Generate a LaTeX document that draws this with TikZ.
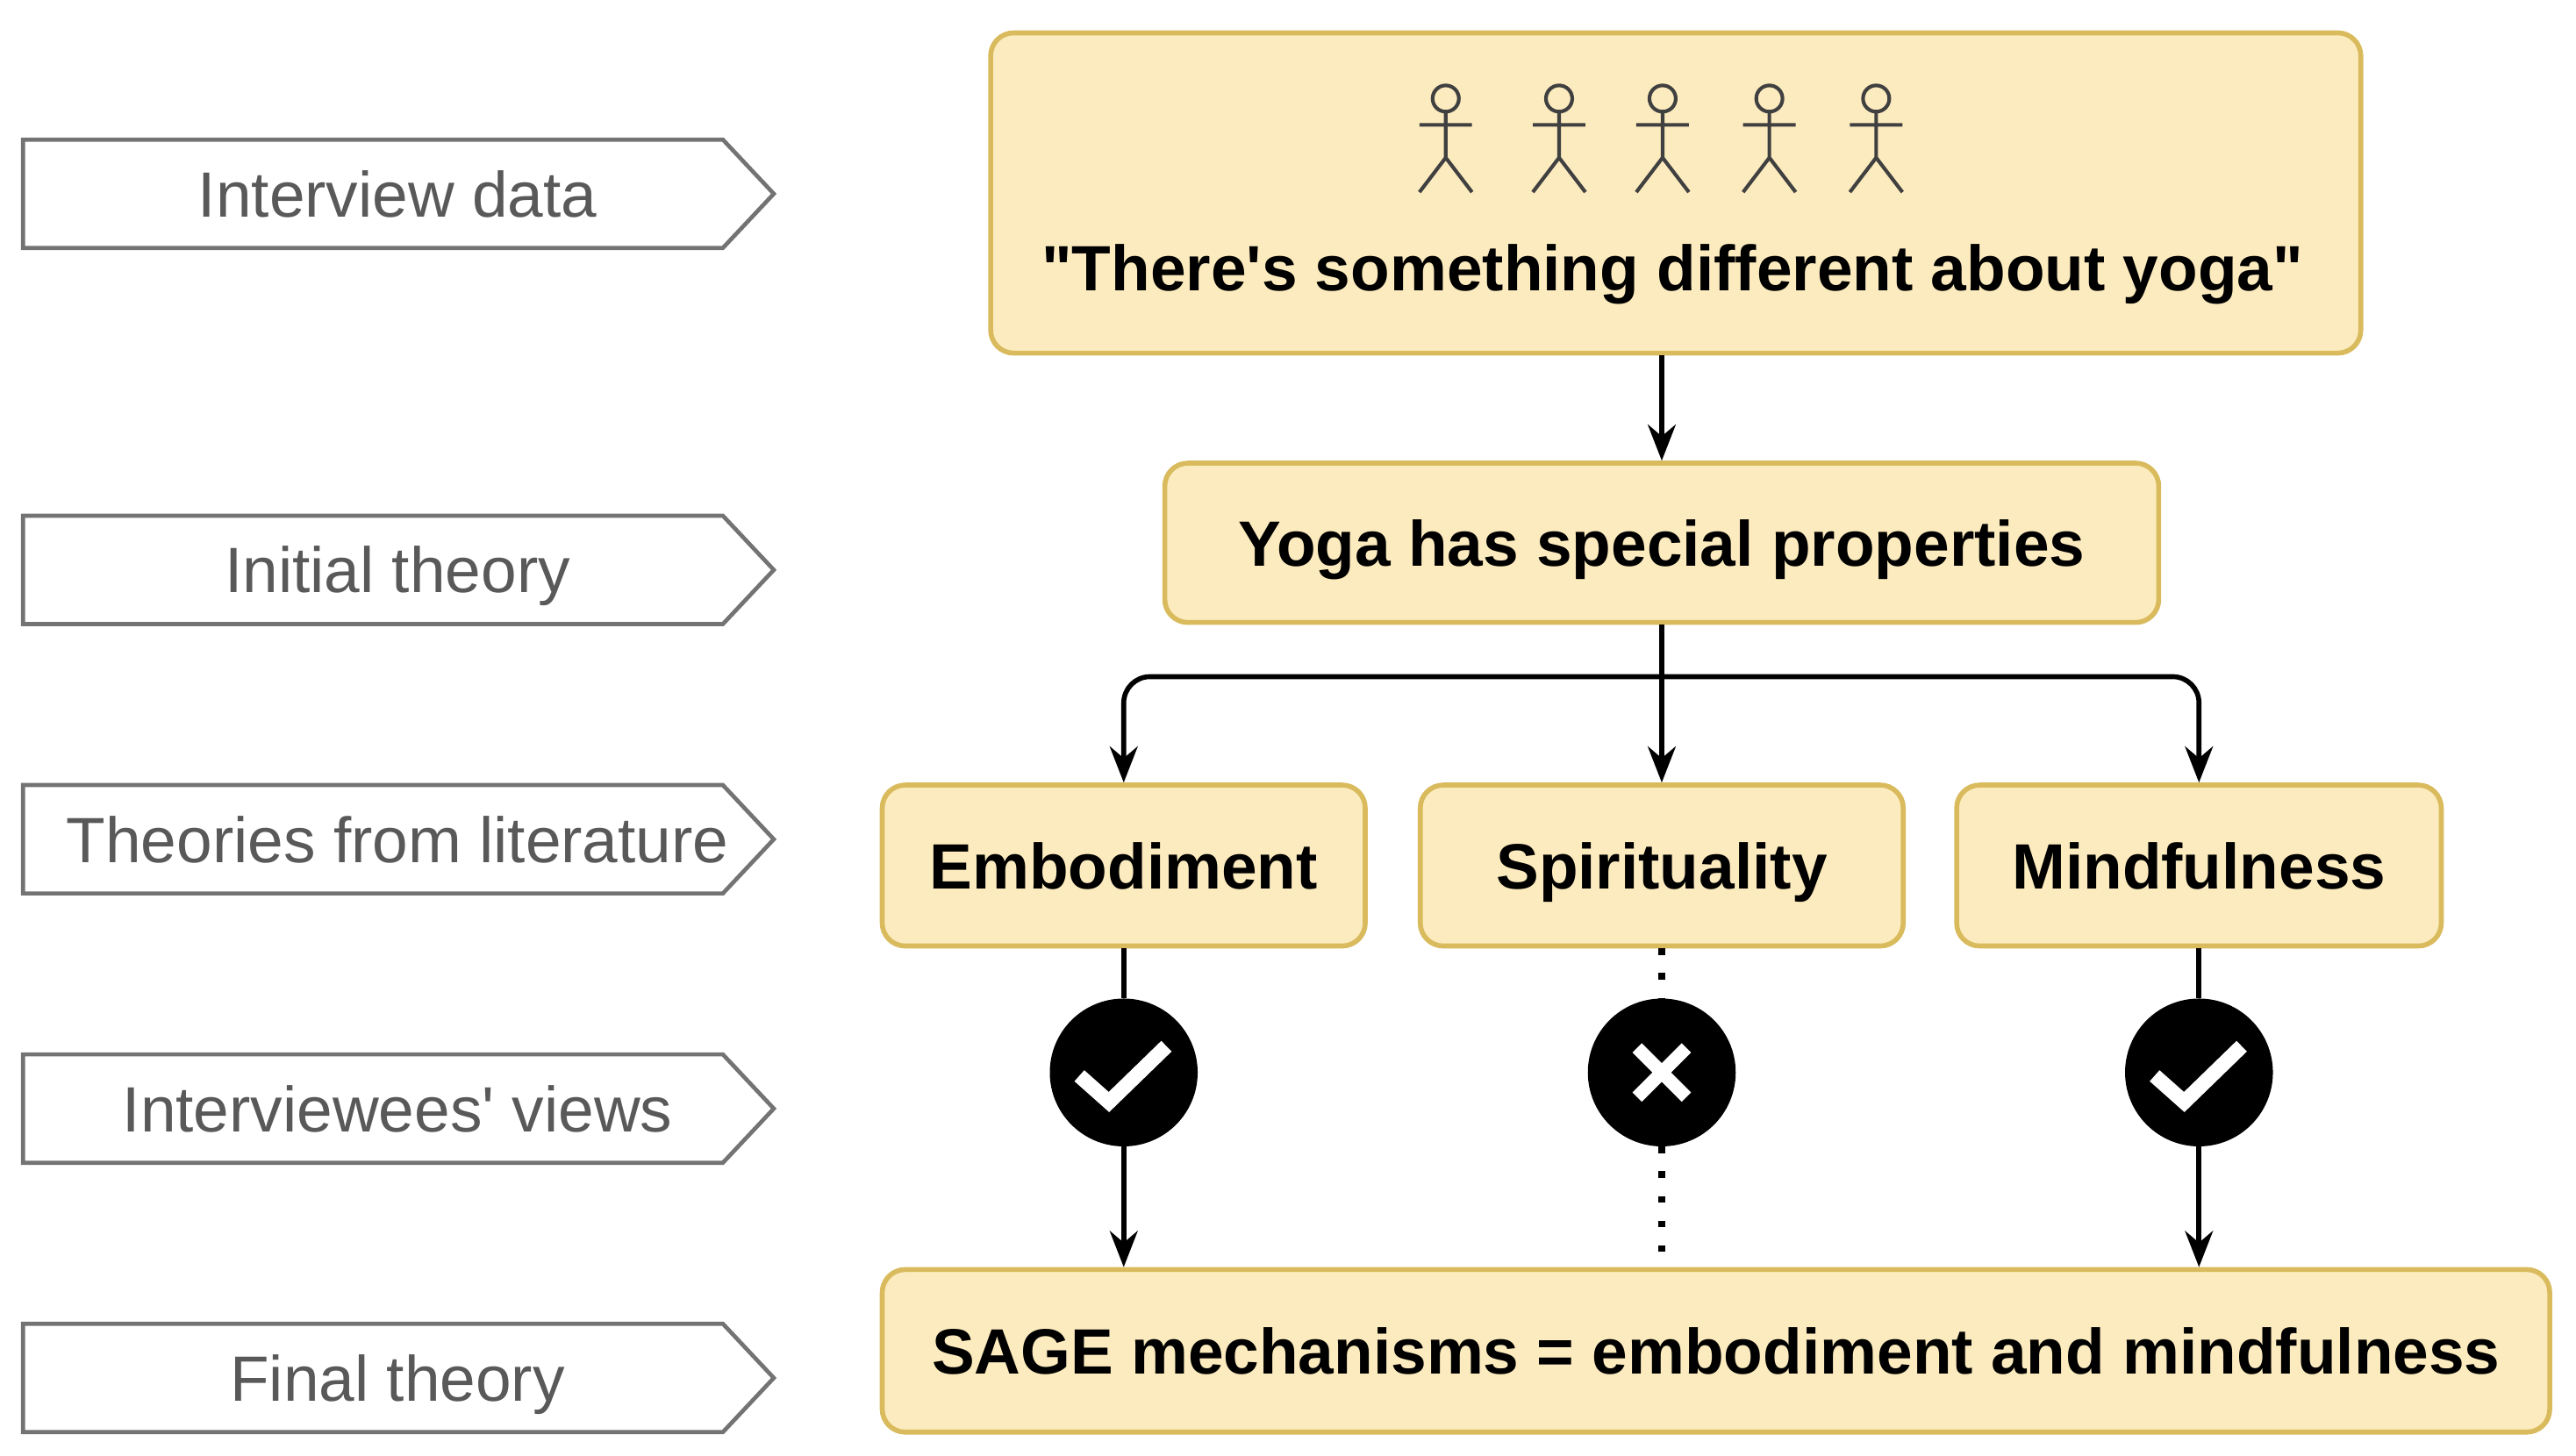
\documentclass[tikz,border=0pt]{standalone}
\usepackage{fontspec}
\setmainfont{Liberation Sans}[Ligatures=TeXOff]
\usetikzlibrary{shapes.symbols,arrows.meta}
\definecolor{bfill}{HTML}{FCEBBE}
\definecolor{bdraw}{HTML}{D9BB5E}
\begin{document}
\begin{tikzpicture}[x=1pt,y=-1pt,
  lab/.style={draw=gray!90!black,line width=2.5pt,fill=white},
  box/.style={draw=bdraw,fill=bfill,line width=3pt,rounded corners=14pt,text height=28pt,text depth=0pt,font=\bfseries\fontsize{39}{41}\selectfont},
  ar/.style={line width=3pt,-{Stealth[length=22pt,width=17pt]}},
  vmark/.style={circle,fill=black,minimum size=90pt,inner sep=0pt},
  fig/.style={line width=2.2pt,gray!50!black}]
\useasboundingbox (0,0) rectangle (1568,886.5);
\foreach \n/\y/\t in {l1/118/Interview data,l2/347/Initial theory,l3/511/Theories from literature,l4/675/Interviewees' views,l5/839/Final theory}{
  \draw[lab] (14,\y-33) -- (440,\y-33) -- (471,\y) -- (440,\y+33) -- (14,\y+33) -- cycle;
  \node[text=gray!70!black,text height=28pt,text depth=0pt,font=\fontsize{39}{41}\selectfont] (\n) at (242,\y) {\t};
}
\node[box,minimum width=834pt,minimum height=195pt] (top) at (1020,117.5) {};
\node[text height=28pt,text depth=0pt,font=\bfseries\fontsize{39}{41}\selectfont] (q) at (1018,163) {"There's something different about yoga"};
\foreach \x in {880,949,1012,1077,1142}{
  \draw[fig] (\x,60) circle (8);
  \draw[fig] (\x,68) -- (\x,96) (\x-16,76) -- (\x+16,76) (\x-16,117) -- (\x,96) -- (\x+16,117);
}
\node[box,minimum width=605pt,minimum height=97pt] (yoga) at (1011.5,330.5) {Yoga has special properties};
\node[box,minimum width=294pt,minimum height=98pt] (emb) at (684,527) {Embodiment};
\node[box,minimum width=294pt,minimum height=98pt] (spi) at (1011.5,527) {Spirituality};
\node[box,minimum width=295pt,minimum height=98pt] (min) at (1338.5,527) {Mindfulness};
\node[box,minimum width=1015pt,minimum height=99pt] (fin) at (1044.5,822.5) {SAGE mechanisms = embodiment and mindfulness};
\draw[ar] (top.south -| yoga) -- (yoga.north);
\coordinate (br) at (1011.5,412);
\draw[ar] (yoga.south) -- (spi.north);
\draw[ar,rounded corners=16pt] (br) -| (emb.north);
\draw[ar,rounded corners=16pt] (br) -| (min.north);
\node[vmark] (c1) at (684,653) {};
\node[vmark] (c2) at (1011.5,653) {};
\node[vmark] (c3) at (1338.5,653) {};
\foreach \c in {c1,c3}{
  \draw[white,line width=9pt] ([shift={(-27,2)}]\c.center) -- ([shift={(-9,18)}]\c.center) -- ([shift={(26,-16)}]\c.center);
}
\draw[white,line width=8pt] ([shift={(-15,-15)}]c2.center) -- ([shift={(15,15)}]c2.center) ([shift={(-15,15)}]c2.center) -- ([shift={(15,-15)}]c2.center);
\draw[line width=3pt] (emb.south) -- (c1);
\draw[line width=3pt] (min.south) -- (c3);
\draw[ar] (c1) -- (c1 |- fin.north);
\draw[ar] (c3) -- (c3 |- fin.north);
\draw[line width=4pt,dash pattern=on 4pt off 11pt] (spi.south) -- (c2.north);
\draw[line width=4pt,dash pattern=on 4pt off 11pt] (c2.south) -- (1011.5,762);
\end{tikzpicture}
\end{document}
